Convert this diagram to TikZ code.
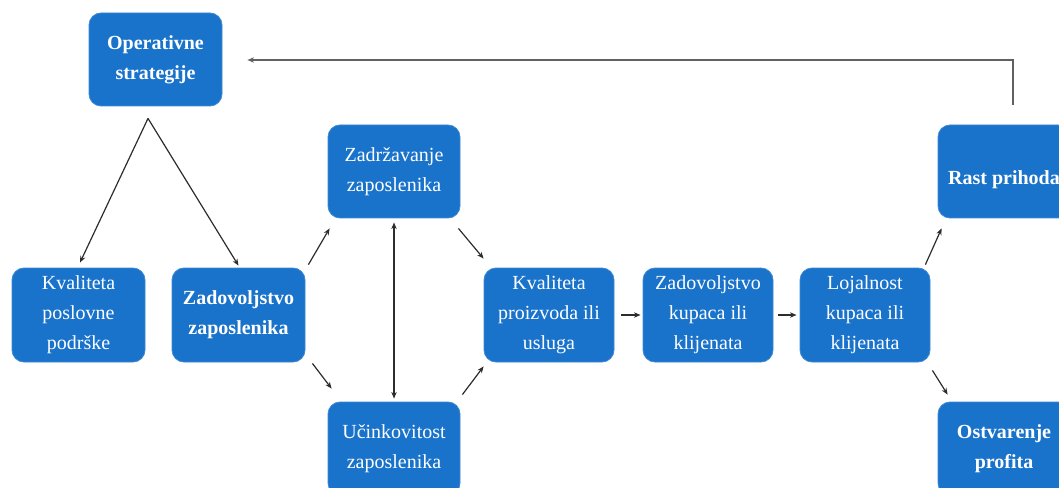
\documentclass[tikz,border=0pt]{standalone}
\usepackage{fontspec}
\setmainfont{Liberation Serif}
\usetikzlibrary{arrows.meta,calc}
\definecolor{boxblue}{RGB}{26,115,203}
\definecolor{linegray}{RGB}{45,45,45}
\tikzset{
  bx/.style={draw=boxblue!85!white, line width=0.6pt, fill=boxblue, rounded corners=9pt, text=white,
     align=center, inner sep=0pt, font=\fontsize{15}{22.5}\selectfont,
     execute at begin node={\rule{0pt}{22pt}}},
  bxbold/.style={bx, font=\fontsize{15}{22.5}\selectfont\bfseries},
  arr/.style={draw=linegray, line width=0.9pt, -{Stealth[length=5pt,width=4pt]}},
  darr/.style={draw=linegray, line width=0.9pt, {Stealth[length=5pt,width=4pt]}-{Stealth[length=5pt,width=4pt]}},
  fbarr/.style={arr, draw=linegray!75}
}
\begin{document}
\begin{tikzpicture}[x=0.75pt,y=-0.75pt]
\clip (0,0) rectangle (1059,488);
\fill[white] (0,0) rectangle (1059,488);
% boxes
\node[bxbold, minimum width=99.75pt, minimum height=69.75pt] (op) at (155.5,59.5) {Operativne\\strategije};
\node[bx, minimum width=99.75pt, minimum height=70.5pt] (kp) at (78.5,315) {Kvaliteta\\poslovne\\podrške};
\node[bxbold, minimum width=99.75pt, minimum height=70.5pt] (zz) at (238.5,315) {Zadovoljstvo\\zaposlenika};
\node[bx, minimum width=99pt, minimum height=69.75pt] (zad) at (394,171.5) {Zadržavanje\\zaposlenika};
\node[bx, minimum width=99pt, minimum height=69.75pt] (uc) at (394,448.5) {Učinkovitost\\zaposlenika};
\node[bx, minimum width=97.5pt, minimum height=70.5pt] (kpu) at (549,315) {Kvaliteta\\proizvoda ili\\usluga};
\node[bx, minimum width=97.5pt, minimum height=70.5pt] (zk) at (708,315) {Zadovoljstvo\\kupaca ili\\klijenata};
\node[bx, minimum width=97.5pt, minimum height=70.5pt] (loj) at (865,315) {Lojalnost\\kupaca ili\\klijenata};
\node[bxbold, minimum width=99pt, minimum height=69.75pt] (rast) at (1004,171.5) {Rast prihoda};
\node[bxbold, minimum width=99pt, minimum height=69.75pt] (ost) at (1004,448.5) {Ostvarenje\\profita};
% triangle from operative strategies
\coordinate (apex) at ([shift={(-7.5,12)}]op.south);
\draw[arr] (apex) -- ([shift={(1.5,-5)}]kp.north);
\draw[arr] (apex) -- ([shift={(0,-2)}]zz.north);
% employee arrows
\draw[arr] ([shift={(3,-3)}]zz.north east) -- ([shift={(2,10)}]zad.south west);
\draw[arr] ([shift={(7,1)}]zz.south east) -- ([shift={(4,-13)}]uc.north west);
\draw[darr] ([shift={(0,4)}]zad.south) -- ([shift={(0,-3)}]uc.north);
\draw[arr] ([shift={(-2,10)}]zad.south east) -- ([shift={(0,-9)}]kpu.north west);
\draw[arr] ([shift={(2,-7)}]uc.north east) -- ([shift={(0,4)}]kpu.south west);
% chain
\draw[arr] ([shift={(7,0)}]kpu.east) -- ([shift={(-2,0)}]zk.west);
\draw[arr] ([shift={(5,0)}]zk.east) -- ([shift={(-3,0)}]loj.west);
\draw[arr] ([shift={(-5,-3)}]loj.north east) -- ([shift={(4,10)}]rast.south west);
\draw[arr] ([shift={(2,8)}]loj.south east) -- ([shift={(10,-7)}]ost.north west);
% feedback
\coordinate (fb) at ([shift={(9,-20)}]rast.north);
\draw[fbarr] (fb) |- ([shift={(25,0.5)}]op.east);
\end{tikzpicture}
\end{document}
